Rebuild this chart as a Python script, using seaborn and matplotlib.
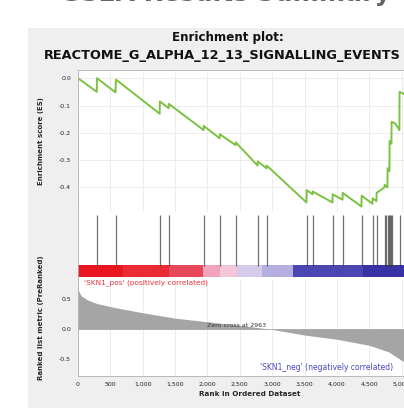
import numpy as np
import pandas as pd
import matplotlib
matplotlib.use("Agg")
import matplotlib.pyplot as plt
from matplotlib.patches import Rectangle
from matplotlib.ticker import FuncFormatter
import seaborn as sns

# ---------------- data ----------------
gene_set = "REACTOME_G_ALPHA_12_13_SIGNALLING_EVENTS"
n_genes = 5300
zero_cross = 2963
pos_label = "'SKN1_pos' (positively correlated)"
neg_label = "'SKN1_neg' (negatively correlated)"

es_rank = [0, 290, 293, 580, 586, 1262, 1265, 1400, 1404, 1940, 1944, 2188, 2191,
           2435, 2438, 2775, 2778, 2914, 2917, 3530, 3534, 3624, 3627, 3932, 3935,
           4087, 4090, 4380, 4383, 4549, 4552, 4611, 4614, 4735, 4738, 4781, 4784,
           4812, 4815, 4843, 4846, 4900, 4966, 4969, 5050, 5053, 5150, 5153, 5250, 5253, 5300]
es_value = [0.0, -0.05, 0.0, -0.052, -0.005, -0.13, -0.085, -0.11, -0.094, -0.19, -0.175,
            -0.22, -0.205, -0.245, -0.235, -0.32, -0.305, -0.33, -0.32, -0.455, -0.41,
            -0.425, -0.415, -0.455, -0.425, -0.445, -0.42, -0.47, -0.43, -0.46, -0.44,
            -0.45, -0.42, -0.40, -0.39, -0.40, -0.33, -0.34, -0.23, -0.24, -0.16,
            -0.165, -0.19, -0.05, -0.06, 0.0, -0.02, 0.03, 0.0, 0.02, 0.0]

hit_ranks = [293, 586, 1265, 1404, 1944, 2191, 2438, 2778, 2917, 3534, 3627, 3935,
             4090, 4383, 4552, 4614, 4738, 4760, 4784, 4800, 4815, 4830, 4846, 4969,
             5053, 5153, 5253]

metric_rank = [0, 50, 150, 300, 600, 1000, 1500, 2000, 2500, 2963, 3500, 4000,
               4500, 4800, 5000, 5150, 5300]
metric_value = [0.65, 0.55, 0.48, 0.42, 0.35, 0.27, 0.18, 0.12, 0.06, 0.0, -0.1,
                -0.17, -0.27, -0.38, -0.52, -0.62, -0.75]

band_edges = [0, 700, 1400, 1930, 2200, 2450, 2850, 3320, 4400, 5300]
band_colors = ["#e8171f", "#ea2a35", "#e6485a", "#f0a3bb", "#f3c6d8",
               "#d6cbea", "#b5afe0", "#4a46b2", "#3833a5"]

es_ticks = [0.0, -0.1, -0.2, -0.3, -0.4]
metric_ticks = [0.5, 0.0, -0.5]
x_ticks = [0, 500, 1000, 1500, 2000, 2500, 3000, 3500, 4000, 4500, 5000]

# ---------------- figure ----------------
sns.set_style("white")
plt.rcParams["font.family"] = ["DejaVu Sans"]
W, H = 404, 408
fig = plt.figure(figsize=(W / 100, H / 100), dpi=100)
fig.patch.set_facecolor("white")
bg = Rectangle((28 / W, 0), 1, (H - 28) / H, transform=fig.transFigure,
               facecolor="#efefef", edgecolor="none", zorder=-10)
fig.add_artist(bg)

def fx(px):
    return px / W

def fy(py):
    return (H - py) / H

left = fx(78)
width = fx(421 - 78)
ax1 = fig.add_axes([left, fy(212), width, fy(70) - fy(212)])
ax2 = fig.add_axes([left, fy(279), width, fy(212) - fy(279)])
ax3 = fig.add_axes([left, fy(376), width, fy(279) - fy(376)])

grid_c = "#e6e6e6"
spine_c = "#b0b0b0"
for ax in (ax1, ax2, ax3):
    ax.set_facecolor("white")
    ax.set_xlim(0, n_genes)
    for s in ax.spines.values():
        s.set_color(spine_c)
        s.set_linewidth(0.6)

# ES curve
es_df = pd.DataFrame({"rank": es_rank, "es": es_value})
for t in x_ticks:
    ax1.axvline(t, color=grid_c, lw=0.5, zorder=0)
for t in es_ticks:
    ax1.axhline(t, color=grid_c, lw=0.5, zorder=0)
sns.lineplot(data=es_df, x="rank", y="es", ax=ax1, color="#7cc242", lw=1.4,
             estimator=None, sort=False)
ax1.set_ylim(-0.49, 0.03)
ax1.set_yticks(es_ticks)
ax1.set_yticklabels([f"{t:.1f}" for t in es_ticks], fontsize=4.5)
ax1.set_xticks([])
ax1.set_xlabel("")
ax1.set_ylabel("Enrichment score (ES)", fontsize=5, fontweight="bold", labelpad=8)
ax1.tick_params(axis="y", length=0, pad=5)

# hits and color bar
ax2.set_ylim(0, 1)
ax2.vlines(hit_ranks, 0.2, 0.955, color="#333333", lw=0.9, alpha=0.7)
for i in range(len(band_colors)):
    ax2.axvspan(band_edges[i], band_edges[i + 1], ymin=0.03, ymax=0.21,
                color=band_colors[i], lw=0)
ax2.set_xticks([])
ax2.set_yticks([])
ax2.spines["top"].set_visible(False)

# ranked metric
for t in x_ticks:
    ax3.axvline(t, color=grid_c, lw=0.5, zorder=0)
ax3.fill_between(metric_rank, metric_value, 0, color="#a5a5a5", lw=0, zorder=1)
ax3.axhline(0, color="#a5a5a5", lw=0.6, zorder=1)
ax3.set_ylim(-0.78, 0.83)
ax3.set_yticks(metric_ticks)
ax3.set_yticklabels([f"{t:.1f}" for t in metric_ticks], fontsize=4.5)
ax3.set_xticks(x_ticks)
ax3.xaxis.set_major_formatter(FuncFormatter(lambda v, p: f"{int(v):,}"))
ax3.tick_params(axis="x", labelsize=4.5, length=0, pad=4)
ax3.tick_params(axis="y", length=0, pad=5)
ax3.set_xlabel("Rank in Ordered Dataset", fontsize=5.2, fontweight="bold", labelpad=3)
ax3.set_ylabel("Ranked list metric (PreRanked)", fontsize=5, fontweight="bold", labelpad=8)
ax3.spines["top"].set_visible(False)
ax3.text(100, 0.82, pos_label, color="#e8303a", fontsize=5.3, va="top", ha="left")
ax3.text(4870, -0.64, neg_label, color="#4a46c0", fontsize=5.5, va="center", ha="right")
ax3.text(2450, 0.06, f"Zero cross at {zero_cross}", color="#333333", fontsize=4.5,
         va="center", ha="center")

ax1.yaxis.set_label_coords(-0.1, 0.5)
ax3.yaxis.set_label_coords(-0.1, 0.6)

# titles
fig.text(fx(228), fy(37), "Enrichment plot:", fontsize=8.6, fontweight="bold",
         ha="center", va="center", color="#111111")
fig.text(fx(44), fy(55), gene_set, fontsize=9.3, fontweight="bold",
         ha="left", va="center", color="#111111")
fig.text(fx(225), fy(-6), "GSEA Results Summary", fontsize=18, fontweight="bold",
         ha="center", va="center", color="#666666")

fig.savefig("out.png", dpi=100, facecolor=fig.get_facecolor())
